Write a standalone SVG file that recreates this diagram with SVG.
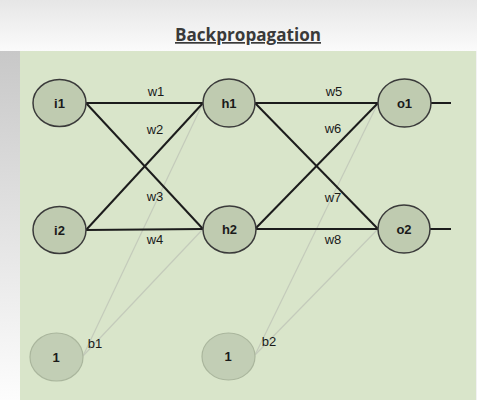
<svg xmlns="http://www.w3.org/2000/svg" width="477" height="400" viewBox="0 0 477 400">
<defs>
<linearGradient id="topg" x1="0" y1="0" x2="0" y2="1">
<stop offset="0" stop-color="#e6e6e6"/>
<stop offset="1" stop-color="#fbfbfb"/>
</linearGradient>
<linearGradient id="leftg" x1="0" y1="0" x2="0" y2="1">
<stop offset="0" stop-color="#c8c8c8"/>
<stop offset="1" stop-color="#fdfdfd"/>
</linearGradient>
<style>
.node ellipse{fill:#bfcbb0;stroke:#3a3a3a;stroke-width:1.5}
.bias ellipse{fill:#c2ceb5;stroke:#aab69d;stroke-width:1.2}
.nl{font-family:"Liberation Sans",Arial,sans-serif;font-size:13px;font-weight:bold;fill:#1a1a1a;text-anchor:middle}
.wl{font-family:"Liberation Sans",Arial,sans-serif;font-size:13px;fill:#1a1a1a;text-anchor:middle}
.main line{stroke:#1c1c1c;stroke-width:2}
.light line{stroke:#c4cbbb;stroke-width:1.2}
</style>
</defs>
<rect x="0" y="0" width="477" height="51" fill="url(#topg)"/>
<rect x="0" y="51" width="20" height="349" fill="url(#leftg)"/>
<rect x="20" y="51" width="456" height="349" fill="#d9e5ca"/>
<rect x="476" y="51" width="1" height="349" fill="#f2f2f2"/>
<text x="248" y="41" font-family="'Open Sans','Liberation Sans',sans-serif" font-size="17" font-weight="bold" fill="#3a3a3a" text-anchor="middle" text-decoration="underline" textLength="146" lengthAdjust="spacingAndGlyphs">Backpropagation</text>
<g id="connectors">
<g class="light">
<line x1="83" y1="356" x2="203" y2="103"/>
<line x1="83" y1="356" x2="203" y2="229"/>
<line x1="255" y1="355" x2="378" y2="103"/>
<line x1="255" y1="355" x2="378" y2="229"/>
</g>
<g class="main">
<line x1="86" y1="103" x2="203" y2="103"/>
<line x1="86" y1="103" x2="203" y2="229"/>
<line x1="86" y1="230" x2="203" y2="103"/>
<line x1="86" y1="230" x2="203" y2="229"/>
<line x1="255" y1="103" x2="378" y2="103"/>
<line x1="255" y1="103" x2="378" y2="229"/>
<line x1="255" y1="229" x2="378" y2="103"/>
<line x1="255" y1="229" x2="378" y2="229"/>
<line x1="431" y1="103" x2="451" y2="103"/>
<line x1="430" y1="229" x2="451" y2="229"/>
</g>
<text class="wl" x="156" y="96">w1</text>
<text class="wl" x="155" y="134">w2</text>
<text class="wl" x="155" y="201">w3</text>
<text class="wl" x="155" y="244">w4</text>
<text class="wl" x="334" y="96">w5</text>
<text class="wl" x="333" y="133">w6</text>
<text class="wl" x="333" y="202">w7</text>
<text class="wl" x="333" y="244">w8</text>
<text class="wl" x="95" y="348">b1</text>
<text class="wl" x="269" y="346">b2</text>
</g>
<g id="i1" class="node"><ellipse cx="59.5" cy="103" rx="26.5" ry="23.5"/><text class="nl" x="59.5" y="107.5">i1</text></g>
<g id="i2" class="node"><ellipse cx="59.5" cy="230" rx="26.5" ry="23.5"/><text class="nl" x="59.5" y="234.5">i2</text></g>
<g id="h1" class="node"><ellipse cx="229" cy="103" rx="26" ry="24"/><text class="nl" x="229" y="107.5">h1</text></g>
<g id="h2" class="node"><ellipse cx="229.5" cy="229.5" rx="26.5" ry="23.5"/><text class="nl" x="229.5" y="234">h2</text></g>
<g id="o1" class="node"><ellipse cx="404.5" cy="103" rx="26.5" ry="24"/><text class="nl" x="404.5" y="107.5">o1</text></g>
<g id="o2" class="node"><ellipse cx="404" cy="229" rx="26" ry="24"/><text class="nl" x="404" y="233.5">o2</text></g>
<g id="bias1" class="bias"><ellipse cx="56.5" cy="357" rx="26.5" ry="24"/><text class="nl" x="56" y="361.5">1</text></g>
<g id="bias2" class="bias"><ellipse cx="228.5" cy="356.5" rx="26.5" ry="23.5"/><text class="nl" x="228" y="361">1</text></g>
</svg>
